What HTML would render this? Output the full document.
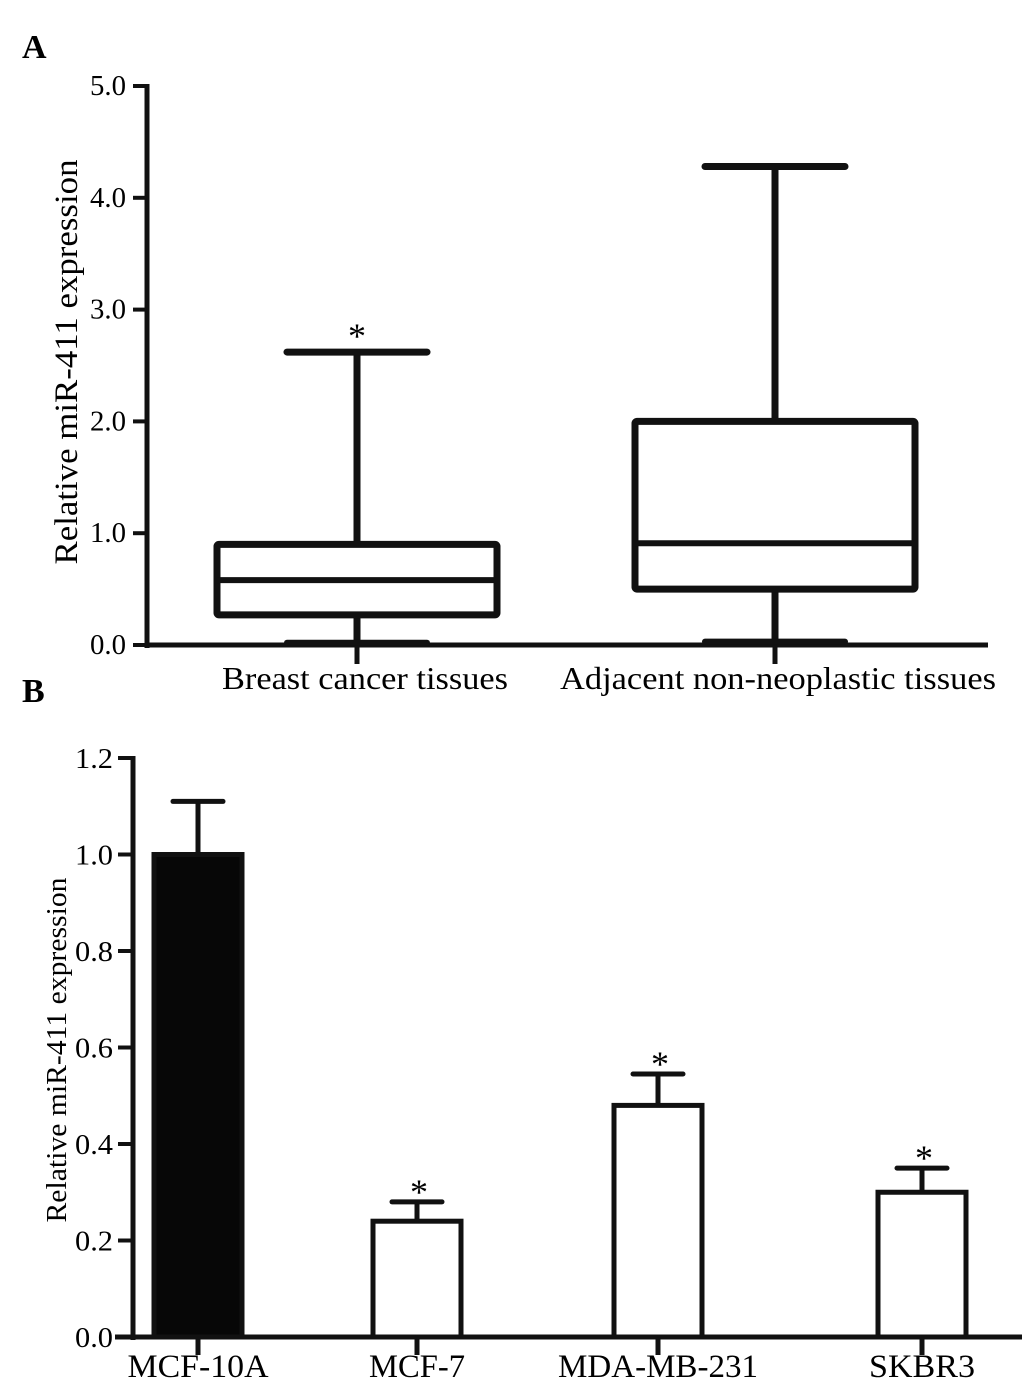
<!DOCTYPE html>
<html><head><meta charset="utf-8"><style>
html,body{margin:0;padding:0;background:#fff;}
svg{display:block;font-family:"Liberation Serif",serif;}
</style></head><body>
<svg id="fig" width="1033" height="1398" viewBox="0 0 1033 1398">
<text x="22" y="58" font-size="34" font-weight="bold">A</text>
<text x="22" y="702" font-size="34" font-weight="bold">B</text>
<g id="chartA"></g>
<g id="chartB"></g>
</svg>
<script>
const boxCategories = ["Breast cancer tissues", "Adjacent non-neoplastic tissues"];
const boxMin = [0.02, 0.03];
const boxQ1 = [0.27, 0.50];
const boxMedian = [0.58, 0.91];
const boxQ3 = [0.90, 2.00];
const boxMax = [2.62, 4.28];
const boxTicks = ["0.0","1.0","2.0","3.0","4.0","5.0"];
const boxSig = [true, false];

const barCategories = ["MCF-10A","MCF-7","MDA-MB-231","SKBR3"];
const barValues = [1.0, 0.24, 0.48, 0.30];
const barErrors = [0.11, 0.04, 0.065, 0.05];
const barSig = [false, true, true, true];
const barTicks = ["0.0","0.2","0.4","0.6","0.8","1.0","1.2"];

const NS = "http://www.w3.org/2000/svg";
function mk(parent, tag, attrs, text){
  const e = document.createElementNS(NS, tag);
  for (const k in attrs) e.setAttribute(k, attrs[k]);
  if (text !== undefined) e.textContent = text;
  parent.appendChild(e);
  return e;
}
function fit(e, w){
  e.setAttribute('textLength', w);
  e.setAttribute('lengthAdjust', 'spacingAndGlyphs');
}

// Chart A
(function(){
  const g = document.getElementById('chartA');
  const x0 = 147, xEnd = 988, y0 = 645, yTop = 86, vmax = 5;
  const y = v => y0 - (v / vmax) * (y0 - yTop);
  const xc = [357, 775];
  const labelX = [365, 778];
  const labelW = [286, 436];
  const halfBox = 140, halfCap = 70;
  let e;
  e = mk(g, 'line', {x1:x0, y1:yTop-2, x2:x0, y2:y0+3, stroke:'#111', 'stroke-width':5});
  
  
  e = mk(g, 'line', {x1:x0-2, y1:y0, x2:xEnd, y2:y0, stroke:'#111', 'stroke-width':5});
  
  
  boxTicks.forEach((t, i) => {
    const v = parseFloat(t), yy = y(v);
    e = mk(g, 'line', {x1:x0-14, y1:yy, x2:x0, y2:yy, stroke:'#111', 'stroke-width':4});
    
    
    e = mk(g, 'text', {x:x0-39, y:yy+9, 'font-size':28, 'text-anchor':'middle'}, t);
    fit(e, 36);
    
    
  });
  e = mk(g, 'text', {x:0, y:0, 'font-size':33, 'text-anchor':'middle', transform:'translate(77,362) rotate(-90)'}, 'Relative miR-411 expression');
  fit(e, 405);
  
  
  boxCategories.forEach((c, i) => {
    const cx = xc[i];
    e = mk(g, 'line', {x1:cx, y1:y0, x2:cx, y2:y0+19, stroke:'#111', 'stroke-width':5});
    
    
    e = mk(g, 'text', {x:labelX[i], y:689, 'font-size':32, 'text-anchor':'middle'}, c);
    fit(e, labelW[i]);
    
    
    e = mk(g, 'line', {x1:cx, y1:y(boxMax[i]), x2:cx, y2:y(boxQ3[i]), stroke:'#111', 'stroke-width':7});
    
    
    e = mk(g, 'line', {x1:cx, y1:y(boxQ1[i]), x2:cx, y2:y(boxMin[i]), stroke:'#111', 'stroke-width':7});
    
    
    e = mk(g, 'line', {x1:cx-halfCap, y1:y(boxMax[i]), x2:cx+halfCap, y2:y(boxMax[i]), stroke:'#111', 'stroke-width':7, 'stroke-linecap':'round'});
    
    
    e = mk(g, 'line', {x1:cx-halfCap, y1:y(boxMin[i]), x2:cx+halfCap, y2:y(boxMin[i]), stroke:'#111', 'stroke-width':6, 'stroke-linecap':'round'});
    
    
    e = mk(g, 'rect', {x:cx-halfBox, y:y(boxQ3[i]), width:halfBox*2, height:y(boxQ1[i])-y(boxQ3[i]), fill:'#fff', stroke:'#111', 'stroke-width':7, rx:2});
    
    
    e = mk(g, 'line', {x1:cx-halfBox, y1:y(boxMedian[i]), x2:cx+halfBox, y2:y(boxMedian[i]), stroke:'#111', 'stroke-width':6});
    
    
    if (boxSig[i]) {
      e = mk(g, 'text', {x:cx, y:y(boxMax[i])-4, 'font-size':36, 'text-anchor':'middle'}, '*');
      
      
    }
  });
})();

// Chart B
(function(){
  const g = document.getElementById('chartB');
  const x0 = 133, xEnd = 1022, y0 = 1337, yTop = 758, vmax = 1.2;
  const y = v => y0 - (v / vmax) * (y0 - yTop);
  const xc = [198, 417, 658, 922];
  const labelW = [141, 96, 200, 106];
  const halfBar = 44, halfCap = 25;
  let e;
  e = mk(g, 'line', {x1:x0, y1:yTop-2, x2:x0, y2:y0+3, stroke:'#111', 'stroke-width':5});
  
  
  e = mk(g, 'line', {x1:x0-18, y1:y0, x2:xEnd, y2:y0, stroke:'#111', 'stroke-width':5});
  
  
  barTicks.forEach(t => {
    const v = parseFloat(t), yy = y(v);
    e = mk(g, 'line', {x1:x0-15, y1:yy, x2:x0, y2:yy, stroke:'#111', 'stroke-width':4});
    
    
    e = mk(g, 'text', {x:x0-39, y:yy+10, 'font-size':29, 'text-anchor':'middle'}, t);
    fit(e, 38);
    
    
  });
  e = mk(g, 'text', {x:0, y:0, 'font-size':29, 'text-anchor':'middle', transform:'translate(66,1050) rotate(-90)'}, 'Relative miR-411 expression');
  fit(e, 345);
  
  
  barCategories.forEach((c, i) => {
    const cx = xc[i], top = y(barValues[i]), et = y(barValues[i] + barErrors[i]);
    e = mk(g, 'line', {x1:cx, y1:y0, x2:cx, y2:y0+18, stroke:'#111', 'stroke-width':5});
    
    
    e = mk(g, 'text', {x:cx, y:1377, 'font-size':33, 'text-anchor':'middle'}, c);
    fit(e, labelW[i]);
    
    
    e = mk(g, 'line', {x1:cx, y1:et, x2:cx, y2:top, stroke:'#111', 'stroke-width':5});
    
    
    e = mk(g, 'line', {x1:cx-halfCap, y1:et, x2:cx+halfCap, y2:et, stroke:'#111', 'stroke-width':5, 'stroke-linecap':'round'});
    
    
    e = mk(g, 'rect', {x:cx-halfBar, y:top, width:halfBar*2, height:y0-top, fill:i===0?'#070707':'#fff', stroke:'#111', 'stroke-width':5});
    
    
    if (barSig[i]) {
      e = mk(g, 'text', {x:cx+2, y:et+2, 'font-size':36, 'text-anchor':'middle'}, '*');
      
      
    }
  });
})();
</script>
</body></html>
